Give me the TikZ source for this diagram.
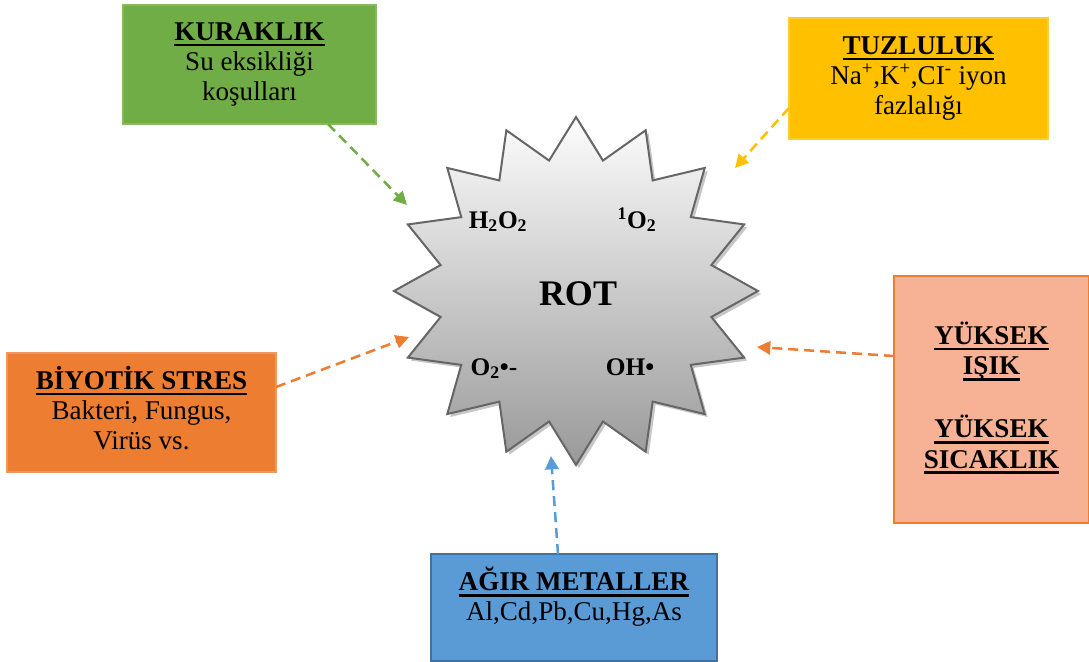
\documentclass[tikz,border=0pt]{standalone}
\usepackage{fontspec}
\setmainfont{Liberation Serif}
\usetikzlibrary{arrows.meta}
\definecolor{cgreen}{HTML}{70AD47}
\definecolor{cyellow}{HTML}{FFC000}
\definecolor{corange}{HTML}{ED7D31}
\definecolor{csalmon}{HTML}{F7B194}
\definecolor{cblue}{HTML}{5B9BD5}
\definecolor{cbluedark}{HTML}{41719C}
\newcommand\ulx[1]{\setbox0\hbox{\strut #1}\rlap{\rule[-4.5pt]{\wd0}{2pt}}\box0}
\tikzset{
  boxtext/.style={align=center, inner sep=0pt, outer sep=0pt, font=\fontsize{20.3}{22.7}\selectfont},
  stressbox/.style={boxtext, rectangle, line width=0.8pt},
  lbl/.style={anchor=base, inner sep=0pt, font=\fontsize{19}{22.5}\selectfont\bfseries},
  rotlbl/.style={anchor=base, inner sep=0pt, font=\fontsize{27}{32}\selectfont\bfseries},
  arr/.style={line width=1.9pt, dash pattern=on 7.5pt off 4.5pt, -{Triangle[length=10pt,width=10pt]}}
}
\begin{document}
\begin{tikzpicture}[x=0.75pt,y=-0.75pt]
\useasboundingbox (0,0) rectangle (1089,661);
% star shadow
\fill[black!22, shift={(3,3)}] plot[samples at={0,...,31}, variable=\k]
  ({576+ifthenelse(mod(\k,2)==0,182,138)*sin(\k*11.25)},{291-ifthenelse(mod(\k,2)==0,174,133)*cos(\k*11.25)}) -- cycle;
% star
\draw[draw=black!60, line width=1.5pt, top color=black!1, bottom color=black!40] plot[samples at={0,...,31}, variable=\k]
  ({576+ifthenelse(mod(\k,2)==0,182,138)*sin(\k*11.25)},{291-ifthenelse(mod(\k,2)==0,174,133)*cos(\k*11.25)}) -- cycle;
\node[rotlbl] (rot) at (578,305) {ROT};
\node[lbl] (h2o2) at (498,228) {H\textsubscript{2}O\textsubscript{2}};
\node[lbl] (singlet) at (637,228) {\textsuperscript{1}O\textsubscript{2}};
\node[lbl] (superox) at (494,375) {O\textsubscript{2}•-};
\node[lbl] (hydroxyl) at (630,375) {OH•};
% boxes
\node[stressbox, fill=cgreen, draw=cgreen!85!white, minimum width=189.75pt, minimum height=89.25pt] (kur) at (249.5,64.5)
  {\ulx{\textbf{KURAKLIK}}\\ \strut Su eksikliği\\ \strut koşulları};
\node[stressbox, fill=cyellow, draw=cyellow!80!white, minimum width=194.25pt, minimum height=90.75pt] (tuz) at (918.5,78.5)
  {\ulx{\textbf{TUZLULUK}}\\ \strut Na\textsuperscript{+},K\textsuperscript{+},CI\textsuperscript{-} iyon\\ \strut fazlalığı};
\node[stressbox, fill=corange, draw=corange!80!white, minimum width=201.75pt, minimum height=89.25pt] (biy) at (141.5,412.5)
  {\ulx{\textbf{BİYOTİK STRES}}\\ \strut Bakteri, Fungus,\\ \strut Virüs vs.};
\node[stressbox, fill=csalmon, draw=corange, minimum width=146.25pt, minimum height=185.25pt] (yuk) at (991.5,399.5)
  {\ulx{\textbf{YÜKSEK}}\\ \ulx{\textbf{IŞIK}}\\ \strut\\ \ulx{\textbf{YÜKSEK}}\\ \ulx{\textbf{SICAKLIK}}};
\node[stressbox, fill=cblue, draw=cbluedark, line width=1.5pt, minimum width=214.5pt, minimum height=80.25pt] (ag) at (574,607.5) {};
\node[boxtext] (agt) at (574,598.5) {\ulx{\textbf{AĞIR METALLER}}\\ \strut Al,Cd,Pb,Cu,Hg,As};
% arrow tips
\coordinate (tkur) at (407,205);
\coordinate (ttuz) at (735,168);
\coordinate (tbiy) at (409,337);
\coordinate (tyuk) at (757,347);
\coordinate (tag) at (551,456);
% arrows
\draw[arr, cgreen] ([xshift=58.9pt]kur.south) -- (tkur);
\draw[arr, cyellow] ([yshift=-22.1pt]tuz.west) -- (ttuz);
\draw[arr, corange] ([yshift=19.1pt]biy.east) -- (tbiy);
\draw[arr, corange] ([yshift=32.6pt]yuk.west) -- (tyuk);
\draw[arr, cblue] ([xshift=-12pt]ag.north) -- (tag);
\end{tikzpicture}
\end{document}
